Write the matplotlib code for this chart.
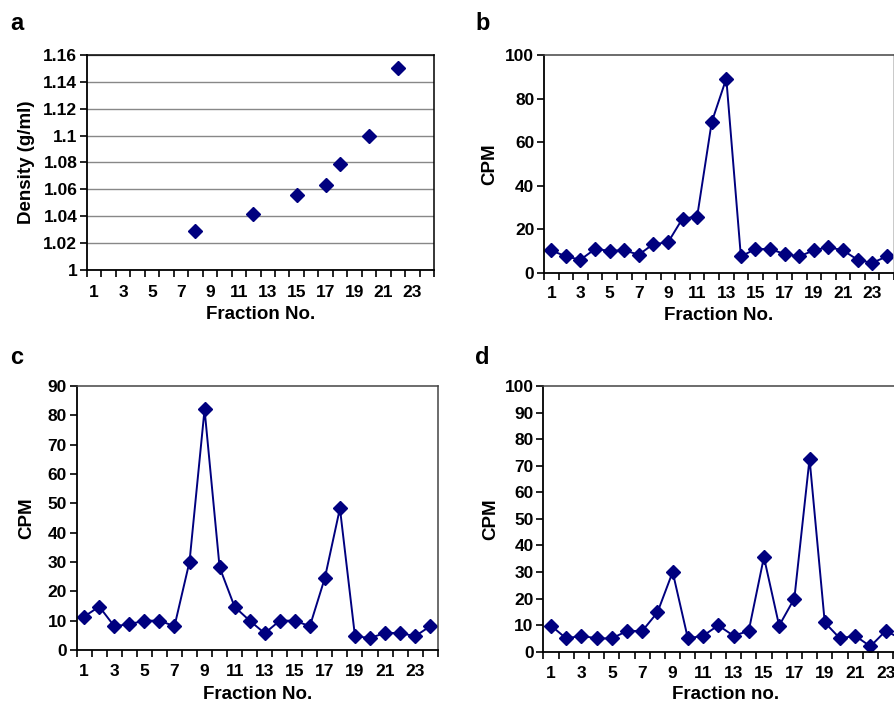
import matplotlib
matplotlib.use('Agg')
import matplotlib.pyplot as plt
from matplotlib.ticker import FixedLocator, FuncFormatter

plt.rcParams['font.family'] = ['Liberation Sans', 'DejaVu Sans']
plt.rcParams['font.weight'] = 'bold'

FRACTIONS = list(range(1, 25))

# panel a: density measured for a few fractions
DENSITY_FRACTIONS = [8, 12, 15, 17, 18, 20, 22]
DENSITY = [1.029, 1.042, 1.056, 1.063, 1.079, 1.100, 1.150]

# panels b-d: CPM per fraction
CPM_B = [10.4, 7.6, 6.1, 11.0, 10.2, 10.4, 8.4, 13.3, 14.0, 25.0, 25.8, 69.2,
         89.2, 7.6, 11.0, 11.0, 8.7, 7.6, 10.4, 11.9, 10.4, 6.1, 4.6, 7.6]
CPM_C = [11.4, 14.8, 8.1, 8.8, 10.0, 10.0, 8.1, 30.1, 82.0, 28.2, 14.7, 10.0,
         5.7, 10.0, 10.0, 8.1, 24.6, 48.3, 4.7, 4.1, 5.8, 5.8, 4.7, 8.1]
CPM_D = [9.8, 5.0, 6.0, 5.0, 5.0, 7.8, 7.8, 14.8, 30.0, 5.0, 6.0, 9.9,
         6.0, 7.8, 35.6, 9.8, 20.0, 72.6, 11.0, 5.0, 6.0, 2.0, 7.8, 5.0]

NAVY = '#00007f'
TICK_FS = 12.5
LABEL_FS = 13.5
LINE_PARAMS = {
    'color': NAVY,
    'lw': 1.4,
    'marker': 'D',
    'markersize': 7,
    'markerfacecolor': NAVY,
    'markeredgecolor': NAVY,
}


def style_xaxis(ax, xlabel, pad, labelpad):
    ax.set_xlim(0.5, 24.5)
    ax.xaxis.set_major_locator(FixedLocator(list(range(1, 24, 2))))
    ax.xaxis.set_minor_locator(FixedLocator([i + 0.5 for i in range(0, 25)]))
    ax.tick_params(axis='x', which='major', length=0, pad=pad,
                   labelsize=TICK_FS)
    ax.tick_params(axis='x', which='minor', length=5, width=1.2,
                   direction='out', color='k')
    ax.set_xlabel(xlabel, fontsize=LABEL_FS, fontweight='bold',
                  labelpad=labelpad)


def style_yaxis(ax, ylabel, ticks):
    ax.set_ylim(ticks[0], ticks[-1])
    ax.set_yticks(ticks)
    ax.yaxis.set_major_formatter(FuncFormatter(lambda v, p: '%g' % round(v, 4)))
    ax.tick_params(axis='y', length=5, width=1.2, direction='out',
                   labelsize=TICK_FS, pad=2)
    ax.set_ylabel(ylabel, fontsize=LABEL_FS, fontweight='bold')
    ax.spines['left'].set_linewidth(1.3)
    ax.spines['bottom'].set_linewidth(1.3)
    for s in ('top', 'right'):
        ax.spines[s].set_color('#444444')
        ax.spines[s].set_linewidth(1.1)


fig = plt.figure(figsize=(8.94, 7.05), dpi=100)

# panel a
ax_a = fig.add_axes([87 / 894, 1 - 270 / 705, 347 / 894, 215 / 705])
ax_a.yaxis.grid(True, color='#888888', lw=1.0)
ax_a.set_axisbelow(True)
ax_a.plot(DENSITY_FRACTIONS, DENSITY, ls='none', marker='D', markersize=7,
          color=NAVY)
style_yaxis(ax_a, 'Density (g/ml)', [1 + 0.02 * i for i in range(9)])
style_xaxis(ax_a, 'Fraction No.', 11, 4)
ax_a.spines['top'].set_color('k')
ax_a.spines['right'].set_color('k')
ax_a.yaxis.set_label_coords(-0.15, 0.5)

# panel b
ax_b = fig.add_axes([544 / 894, 1 - 273 / 705, 350 / 894, 218 / 705])
ax_b.plot(FRACTIONS, CPM_B, **LINE_PARAMS)
style_yaxis(ax_b, 'CPM', list(range(0, 101, 20)))
style_xaxis(ax_b, 'Fraction No.', 9.5, 4)
ax_b.spines['right'].set_color('#bbbbbb')
ax_b.yaxis.set_label_coords(-0.13, 0.5)

# panel c
ax_c = fig.add_axes([76.7 / 894, 1 - 650 / 705, 361 / 894, 264 / 705])
ax_c.plot(FRACTIONS, CPM_C, **LINE_PARAMS)
style_yaxis(ax_c, 'CPM', list(range(0, 91, 10)))
style_xaxis(ax_c, 'Fraction No.', 10, 5)
ax_c.yaxis.set_label_coords(-0.116, 0.5)

# panel d, runs past the right edge of the figure
ax_d = fig.add_axes([543.4 / 894, 1 - 651.7 / 705, 365 / 894, 265.7 / 705])
ax_d.plot(FRACTIONS, CPM_D, **LINE_PARAMS)
style_yaxis(ax_d, 'CPM', list(range(0, 101, 10)))
style_xaxis(ax_d, 'Fraction no.', 10, 4)
ax_d.yaxis.set_label_coords(-0.12, 0.5)

for letter, x, y in (('a', 10, 24), ('b', 475, 24), ('c', 10, 358), ('d', 475, 358)):
    fig.text(x / 894, 1 - y / 705, letter, fontsize=17, fontweight='bold',
             va='center', ha='left')

fig.savefig('out.png', dpi=100)
